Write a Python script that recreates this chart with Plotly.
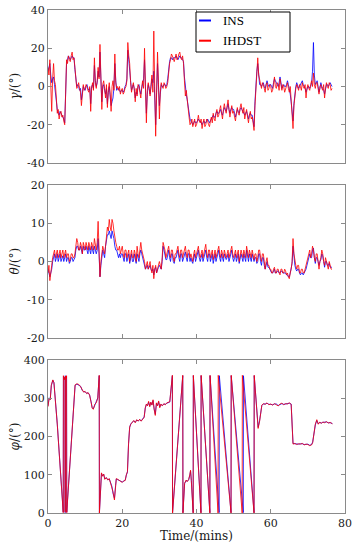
import plotly.graph_objects as go

# ---------------- data ----------------
STEP = 0.25  # minutes between attitude samples (t = 0 .. 76.5)

gamma_ins = [8, 10, 12, 6, 2, 4, 5, 1, -4, -8, -12, -14, -15, -13, -14, -15, -16, -17, -19, -3,
             12, 14, 16, 15, 14, 15, 16, 15, 15, 9, 4, 0, 1, 0, -2, -1, -7, -2, 0, -1,
             -2, 0, 1, -1, -2, -1, -9, 0, 1, -1, 11, 3, 0, 2, 8, 5, 18, 4, -8, 0,
             1, -2, -4, -1, -9, -3, 0, -5, -10, -8, -6, -1, 12, 3, -2, -1, -1, -2, -3, -2,
             -2, -3, -2, 0, 1, 4, 19, 14, 10, 3, -2, 0, 1, -1, -6, -3, -4, 0, 1, -2,
             -4, -1, 2, 4, 14, -2, -14, -4, 1, -1, -4, 0, 4, 2, 8, -6, -20, -3, 12, 1,
             -10, -4, 1, 0, 0, 1, 1, 0, 1, 4, 10, 13, 15, 15, 14, 15, 15, 15, 16, 15,
             14, 15, 16, 15, 15, 14, 13, 5, -2, -4, -7, -11, -15, -17, -18, -19, -20, -19, -18, -19,
             -19, -18, -17, -18, -18, -19, -20, -19, -18, -19, -19, -18, -17, -18, -19, -18, -17, -16, -15, -16,
             -16, -14, -13, -14, -14, -13, -12, -14, -15, -13, -11, -12, -13, -11, -9, -12, -14, -12, -11, -12,
             -12, -14, -16, -14, -12, -13, -14, -12, -11, -12, -13, -14, -15, -14, -13, -15, -17, -15, -14, -15,
             -15, -18, -21, -8, 3, 8, 12, 5, 1, 1, 0, 1, 2, 0, -1, 1, 3, 1, 0, 1,
             1, 0, -1, 2, 4, 3, 2, 1, 0, 2, 5, 2, -1, 0, 1, 0, 0, 1, 3, 1,
             -1, -4, -8, -13, -18, -9, -3, 0, 2, 0, -1, 0, 1, 2, 3, 1, 0, -1, -3, -1,
             0, 0, -1, 0, 2, 8, 23, 6, 1, 2, 3, 0, -3, -1, 2, 0, -1, -2, -4, -1,
             1, 1, 0, 1, 2, 1, 0]

gamma_ihdst = [10, 6, 14, 2, -13, 4, 12, 3, 1, -6, -14, -12, -17, -14, -13, -16, -15, -18, -20, -4,
               14, 12, 16, 14, 13, 16, 18, 14, 15, 10, 2, -1, 0, 2, -1, -3, -10, -1, 1, -2,
               -1, 1, 0, -2, -3, 0, -13, -1, 2, -2, 15, 2, -1, 3, 10, 4, 22, 5, -12, 1,
               3, -1, -6, 1, -11, -2, 2, -4, -13, 0, 3, -2, 17, 2, -1, 0, -2, 0, -4, -2,
               -1, -4, -3, -1, 0, 3, 23, 16, 12, 2, -3, 0, 2, -2, -8, -1, -5, 1, 0, -3,
               -6, 0, 3, -1, 20, 0, -19, -2, 2, -1, -5, 1, 6, -3, 29, 0, -26, -4, 18, 2,
               -17, -3, 2, 0, -1, 2, 1, -1, 0, 2, 8, 12, 14, 17, 16, 14, 13, 15, 17, 14,
               15, 17, 18, 15, 14, 16, 12, 3, -5, -2, -8, -12, -16, -20, -19, -17, -21, -19, -17, -21,
               -20, -18, -15, -18, -19, -17, -22, -19, -17, -21, -20, -17, -18, -20, -21, -18, -16, -19, -14, -17,
               -18, -14, -12, -16, -15, -12, -10, -14, -17, -12, -9, -12, -14, -10, -7, -12, -16, -13, -10, -14,
               -13, -16, -18, -14, -11, -14, -15, -11, -9, -12, -14, -11, -17, -14, -12, -16, -19, -15, -13, -17,
               -16, -19, -23, -10, 1, 8, 15, 6, 3, 0, -1, 2, 1, -1, -3, 1, 2, -2, -1, 1,
               0, -3, -2, 1, 5, 0, -1, 2, 1, -2, 4, 1, -2, 1, 0, -3, -1, 1, 2, -1,
               -3, 0, -6, -12, -22, -10, -4, -1, 1, -1, -2, 1, 0, -2, 2, 0, -1, 1, -6, -1,
               1, -1, -2, 1, 3, 0, 7, 1, -1, 2, 2, -1, -4, 0, 1, -1, -2, 1, -6, -1,
               2, 0, -1, 2, 1, -2, -1]

theta_ins = [-2, -3, -4, -3, -2, 0, 1, 2, 0, 1, 2, 0, 1, 2, 0, 1, 1.5, 0, 1, 2,
             0, 1, 1, -0.5, 0, 1, 1, 0, 0.5, 1, 3, 4, 4, 3, 3, 4, 3, 2, 4, 3,
             3, 4, 3, 2, 4, 3, 2, 4, 3, 2, 4, 3, 2, 3, 6, 2, -4, -1, 1, 3,
             2, 1, 4, 6, 7, 7, 8, 7, 6, 8, 7, 6, 4, 3, 3, 2, 1, 2, 1, 2,
             2, 1, 0, 2, 2, 0, 1, 2, -0.5, 1, 2, 0, 0, 2, 1, -0.5, 2, 1, 0, 2,
             3, 2, 1, 0, -1, -2, -1.5, -1, -2, -1.5, -1, -2, -2.5, -2, -3.5, -2, -1.5, -3, -2, -1.5,
             -1, -1.5, -2, 0, 4, 3, 2, 0.5, 0.5, 2, 3, 1, 0, 2, 2, 0, -0.5, 1, 1, 2,
             3, 1, 0, 2, 2, 0, 1, 2, 2.5, 1, 0, 2, 2, 0, 1, 0, -0.5, 1, 2, 0,
             1, 2, 3, 1, 0, 1, 2, 0, 1, 2, 3, 1, 0, 2, 2, 0, 1, 2, -0.5, 1,
             2, 0, 1, 2, 3, 1, 0, 2, 1, 0, 2, 1, 0.5, 1, 2, 0, 1, 2, 3, 1,
             0, 1, 2, 0, 1, 2, -0.5, 1, 2, 1, 0, 2, 1, 0, 3, 1, 0, 2, 1, 0,
             2, 1, 0, 1, 1, -0.5, 0, 2, 2, 0, -1, 1, 1, -1, -2, -1, 0, -1.5, -1.5, -2,
             -2.5, -3, -3, -2.5, -2, -3, -3, -2.5, -2.5, -3, -3, -2.5, -2.5, -3, -3, -3, -3, -3.5, -3.5, -4,
             -4, -3, -2, -0.5, 4, 1, -1, -2, -2.5, -2, -2, -3, -3.5, -3, -3, -3.5, -3, -2.5, -2, -1,
             0, 1, 2, 1, 1, 3, 3.5, 1, -0.5, 1, 1, 0, -1, 0, 0.5, 2, 1.5, 0, -1.5, 0,
             0, -1, -1, -0.5, -1.5, -1.5, -1.5]

theta_ihdst = [-3, -1, -5, -2, -1, 1, 2, 3, 1, 2, 3, 1, 2, 3, 1, 2, 3, 1, 2, 3,
               1, 2, 2, 0, 0.5, 2, 2, 1, 1, 2, 4, 6, 5, 3, 3, 5, 4, 2, 5, 4,
               3, 5, 4, 3, 5, 4, 3, 5, 4, 3, 6, 4, 3, 5, 10.5, 3, -4, 0, 2, 4,
               3, 2, 4, 7, 9, 8, 11, 9, 8, 11, 10, 8, 6, 5, 4, 3, 3, 4, 2, 3,
               4, 2, 1, 3, 3, 1, 2, 3, 0, 2, 3, 1, 1, 3, 2, 0, 4, 2, 1, 3,
               5, 3, 2, 1, 0, -2, -1, 0, -2, -1, 0, -2, -3, -1, -4.5, -2, -1, -3, -2, -1,
               0, -1, -2, 1, 5, 4, 3, 1, 2, 3, 4, 2, 1, 3, 3, 1, 0, 2, 2, 3,
               4, 2, 1, 3, 3, 1, 2, 3, 4, 2, 1, 3, 3, 1, 2, 1, 0, 2, 3, 1,
               2, 3, 4, 2, 1, 2, 3, 1, 2, 3, 4.5, 2, 1, 3, 3, 1, 2, 3, 0.5, 2,
               3, 1, 2, 3, 4, 2, 1, 3, 2, 1, 3, 2, 1, 2, 3, 1, 2, 3, 4, 2,
               1, 2, 3, 1, 2, 3, 0, 2, 3, 2, 1, 3, 2, 1, 4, 2, 1, 3, 2, 1,
               3, 2, 0.5, 2, 2, 0, 1, 3, 3, 1, 0, 2, 2, 0, -2, 0, 1, -1, -1, -2,
               -2, -3, -3, -2, -1.5, -3, -3, -2, -2, -3, -3.5, -2, -2, -3, -3, -2, -2.5, -3.5, -3, -4,
               -4.5, -3, -2, 0, 6, 2, 0, -1, -2, -1, -1, -3, -3, -2, -2, -3, -3, -2, -1, 0,
               1, 2, 3, 1, 2, 4, 3, 1, 0, 2, 2, 0, -2, 0, 1, 3, 2, 0, -1, 1,
               0, -1, -2, 0, -1, -2, -2]

# heading: (time in minutes, heading in degrees)
phi_ins = [(0, 280), (0.3, 301), (0.6, 297), (0.9, 333), (1.3, 347), (1.6, 341), (2.5, 233), (3.5, 101),
           (4.1, 2), (4.15, 358), (4.4, 350), (4.6, 356), (4.63, 1), (4.67, 359), (4.9, 353), (5.0, 358),
           (5.05, 2), (7.3, 334), (7.8, 337), (8.3, 335), (8.8, 331), (9.2, 321), (9.6, 317), (10.0, 317),
           (10.4, 313), (10.8, 314), (11.2, 309), (11.6, 291), (11.9, 276), (12.2, 272), (12.6, 283),
           (13.0, 289), (13.4, 301), (13.8, 359), (13.85, 1), (14.4, 104), (14.7, 97), (15.0, 101),
           (15.3, 89), (15.7, 92), (16.1, 87), (16.5, 89), (16.8, 81), (17.2, 70), (17.5, 52), (17.9, 38),
           (18.2, 72), (18.4, 89), (18.8, 87), (19.2, 86), (19.6, 83), (20.0, 81), (20.4, 83), (20.8, 86),
           (21.1, 99), (21.4, 107), (21.7, 182), (22.0, 224), (22.3, 233), (22.7, 237), (23.1, 241),
           (23.5, 237), (23.9, 243), (24.3, 241), (24.7, 244), (25.1, 241), (25.5, 245), (25.9, 251),
           (26.2, 274), (26.5, 284), (26.8, 281), (27.1, 290), (27.4, 279), (27.7, 289), (28.0, 283),
           (28.3, 294), (28.6, 272), (28.9, 258), (29.2, 286), (29.5, 281), (29.8, 291), (30.1, 277),
           (30.4, 284), (30.8, 281), (31.2, 285), (31.6, 284), (32.0, 287), (32.4, 289), (32.8, 290),
           (33.5, 359), (33.55, 1), (36.3, 359), (36.35, 1), (36.8, 77), (37.2, 85), (37.5, 83),
           (37.9, 87), (38.2, 99), (38.4, 110), (38.6, 86), (39.1, 1), (39.15, 359), (41.2, 1),
           (41.25, 359), (43.6, 1), (43.65, 359), (46.1, 1), (46.15, 359), (49.3, 1), (49.35, 359),
           (52.6, 1), (52.65, 359), (55.5, 1), (55.55, 359), (56.6, 224), (57.0, 242), (57.6, 281),
           (58.0, 285), (58.5, 285), (59.0, 287), (59.5, 284), (60.0, 284), (60.5, 283), (61.0, 285),
           (61.5, 285), (62.0, 281), (62.5, 284), (63.0, 286), (63.5, 284), (64.0, 285), (64.5, 286),
           (65.0, 287), (65.5, 285), (66.0, 182), (66.5, 181), (67.0, 180), (67.5, 180), (68.0, 181),
           (68.5, 181), (69.0, 179), (69.5, 179), (70.0, 180), (70.5, 177), (71.0, 179), (71.3, 186),
           (71.6, 210), (72.0, 230), (72.4, 242), (72.8, 233), (73.2, 237), (73.6, 235), (74.0, 237),
           (74.5, 237), (75.0, 238), (75.5, 236), (76.0, 236), (76.6, 234)]

phi_ihdst = [(0, 278), (0.3, 300), (0.6, 296), (0.9, 335), (1.3, 348), (1.6, 340), (2.5, 232), (3.5, 100),
             (4.1, 1), (4.15, 359), (4.4, 348), (4.6, 355), (4.63, 2), (4.67, 358), (4.9, 352), (5.0, 359),
             (5.05, 1), (7.3, 335), (7.8, 338), (8.3, 336), (8.8, 330), (9.2, 322), (9.6, 316), (10.0, 318),
             (10.4, 312), (10.8, 315), (11.2, 308), (11.6, 290), (11.9, 274), (12.2, 271), (12.6, 284),
             (13.0, 288), (13.4, 300), (13.8, 360), (13.85, 0), (14.4, 105), (14.7, 96), (15.0, 102),
             (15.3, 88), (15.7, 93), (16.1, 86), (16.5, 90), (16.8, 80), (17.2, 72), (17.5, 56), (17.9, 34),
             (18.2, 70), (18.4, 90), (18.8, 88), (19.2, 85), (19.6, 82), (20.0, 80), (20.4, 84), (20.8, 85),
             (21.1, 100), (21.4, 108), (21.7, 180), (22.0, 225), (22.3, 232), (22.7, 238), (23.1, 242),
             (23.5, 236), (23.9, 244), (24.3, 240), (24.7, 245), (25.1, 240), (25.5, 246), (25.9, 250),
             (26.2, 275), (26.5, 285), (26.8, 280), (27.1, 292), (27.4, 278), (27.7, 290), (28.0, 282),
             (28.3, 296), (28.6, 270), (28.9, 255), (29.2, 288), (29.5, 280), (29.8, 293), (30.1, 275),
             (30.4, 285), (30.8, 280), (31.2, 286), (31.6, 283), (32.0, 288), (32.4, 290), (32.8, 291),
             (33.5, 360), (33.55, 0), (36.3, 360), (36.35, 0), (36.8, 78), (37.2, 86), (37.5, 82),
             (37.9, 88), (38.2, 100), (38.4, 112), (38.6, 85), (39.1, 0), (39.15, 360), (41.2, 0),
             (41.25, 360), (43.6, 0), (43.65, 360), (45.8, 0), (45.85, 360), (49.3, 0), (49.35, 360),
             (52.3, 0), (52.35, 360), (55.5, 0), (55.55, 360), (56.6, 221), (57.0, 240), (57.6, 282),
             (58.0, 286), (58.5, 284), (59.0, 288), (59.5, 283), (60.0, 285), (60.5, 282), (61.0, 286),
             (61.5, 284), (62.0, 280), (62.5, 285), (63.0, 287), (63.5, 283), (64.0, 286), (64.5, 285),
             (65.0, 288), (65.5, 284), (66.0, 180), (66.5, 182), (67.0, 179), (67.5, 181), (68.0, 180),
             (68.5, 182), (69.0, 178), (69.5, 180), (70.0, 179), (70.5, 176), (71.0, 178), (71.3, 184),
             (71.6, 205), (72.0, 232), (72.4, 244), (72.8, 232), (73.2, 238), (73.6, 234), (74.0, 238),
             (74.5, 236), (75.0, 239), (75.5, 235), (76.0, 237), (76.6, 233)]

x_ticks = [0, 20, 40, 60, 80]
x_labels = ["0", "20", "40", "60", "80"]
gamma_ticks = [-40, -20, 0, 20, 40]
theta_ticks = [-20, -10, 0, 10, 20]
phi_ticks = [0, 100, 200, 300, 400]
series_names = ["INS", "IHDST"]
series_colors = ["#0000ff", "#ff0000"]

_n = {k: len(v) for k, v in [("gamma_ins", gamma_ins), ("gamma_ihdst", gamma_ihdst),
                             ("theta_ins", theta_ins), ("theta_ihdst", theta_ihdst)]}
assert all(v == 307 for v in _n.values()), str(_n)

# ---------------- figure ----------------
W, H = 358, 550
# plot frame in window pixels: x 48..345, y 10..513
ML, MR, MT, MB = 48, 358 - 345, 10, 550 - 513
PW, PH = W - ML - MR, H - MT - MB


def px_x(p):
    return (p - ML) / PW


def px_y(p):
    return (H - MB - p) / PH


LW = 0.8

fig = go.Figure()
panels = [
    (gamma_ins, gamma_ihdst, "x", "y"),
    (theta_ins, theta_ihdst, "x2", "y2"),
]
for ins, ihd, xa, ya in panels:
    for vals, name, col in [(ins, series_names[0], series_colors[0]),
                            (ihd, series_names[1], series_colors[1])]:
        fig.add_trace(go.Scatter(x=[i * STEP for i in range(len(vals))], y=vals, mode="lines",
                                 name=name, line=dict(color=col, width=LW), xaxis=xa, yaxis=ya,
                                 showlegend=False))
for pairs, name, col in [(phi_ins, series_names[0], series_colors[0]),
                         (phi_ihdst, series_names[1], series_colors[1])]:
    fig.add_trace(go.Scatter(x=[p[0] for p in pairs], y=[p[1] for p in pairs], mode="lines",
                             name=name, line=dict(color=col, width=LW), xaxis="x3", yaxis="y3",
                             showlegend=False))

AX = "#8a8a8a"
FONT = "DejaVu Serif"
base = dict(showline=True, linecolor=AX, linewidth=1, mirror="ticks", ticks="inside",
            ticklen=4, tickcolor=AX, showgrid=False, zeroline=False, ticklabeloverflow="allow",
            tickfont=dict(family=FONT, size=11, color="#1a1a1a"))

doms = [(px_y(163), px_y(10)), (px_y(338), px_y(185)), (px_y(513), px_y(360))]
yt = [gamma_ticks, theta_ticks, phi_ticks]
lay = {}
for i in range(3):
    sx = "" if i == 0 else str(i + 1)
    lay["xaxis" + sx] = dict(base, domain=[0, 1], range=[0, 80], tickvals=x_ticks,
                             ticktext=x_labels, showticklabels=(i == 2), anchor="y" + sx)
    lay["yaxis" + sx] = dict(base, domain=list(doms[i]), range=[yt[i][0], yt[i][-1]],
                             tickvals=yt[i], ticktext=[str(v) for v in yt[i]], anchor="x" + sx)

ann = []
titles = ["<i>γ</i>/(°)", "<i>θ</i>/(°)", "<i>φ</i>/(°)"]
centers = [86.5, 261.5, 436.5]
for ttl, c in zip(titles, centers):
    ann.append(dict(text=ttl, xref="paper", yref="paper", x=px_x(14), y=px_y(c),
                    xanchor="center", yanchor="middle", textangle=-90, showarrow=False,
                    font=dict(family=FONT, size=12, color="#1a1a1a")))
ann.append(dict(text="Time/(mins)", xref="paper", yref="paper", x=px_x(196.5), y=px_y(536),
                xanchor="center", yanchor="middle", showarrow=False,
                font=dict(family=FONT, size=12, color="#1a1a1a")))

# manual legend
shapes = [dict(type="rect", xref="paper", yref="paper", x0=px_x(196), x1=px_x(290),
               y0=px_y(52), y1=px_y(12), line=dict(color="black", width=1), fillcolor="white",
               layer="above")]
for name, col, ly in [(series_names[0], series_colors[0], 20.5),
                      (series_names[1], series_colors[1], 40.7)]:
    shapes.append(dict(type="line", xref="paper", yref="paper", x0=px_x(199), x1=px_x(211),
                       y0=px_y(ly), y1=px_y(ly), line=dict(color=col, width=2), layer="above"))
    ann.append(dict(text=name, xref="paper", yref="paper", x=px_x(221), y=px_y(ly),
                    xanchor="left", yanchor="middle", showarrow=False,
                    font=dict(family="Liberation Serif", size=13, color="black")))

fig.update_layout(width=W, height=H, margin=dict(l=ML, r=MR, t=MT, b=MB, autoexpand=False),
                  paper_bgcolor="white", plot_bgcolor="white", showlegend=False,
                  hovermode=False, annotations=ann, shapes=shapes, **lay)

# remove the default page margin so the figure sits at the window's corner
fig.write_html("out.html", config={"displayModeBar": False, "staticPlot": True},
               post_script="document.body.style.margin='0';document.body.style.overflow='hidden';")
